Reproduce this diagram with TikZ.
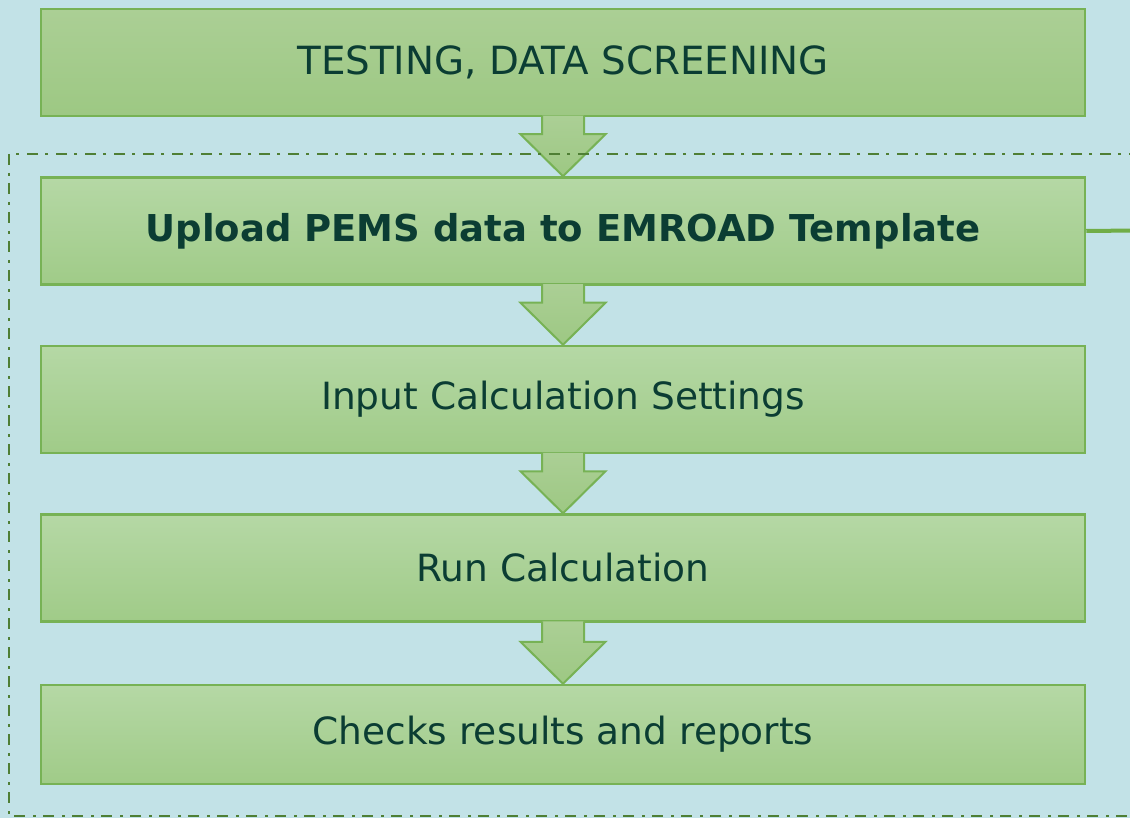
\documentclass[tikz,border=0pt]{standalone}
\usepackage{fontspec}
\setmainfont{DejaVu Sans}
\usetikzlibrary{positioning,calc}

\definecolor{bgblue}{HTML}{C2E2E7}
\definecolor{boxline}{HTML}{77B255}
\definecolor{boxtop}{HTML}{B5D8A5}
\definecolor{boxbot}{HTML}{A0CB88}
\definecolor{headtop}{HTML}{ABCF95}
\definecolor{headbot}{HTML}{9DC883}
\definecolor{textgreen}{HTML}{0B3D33}
\definecolor{framegreen}{HTML}{4F7F35}
\definecolor{linkgreen}{HTML}{70AD47}

% block arrow from the bottom of #1 to the top of #2
\newcommand{\flowarrow}[2]{%
  \path[downarrow] ($(#1.south)+(-21,-1.5)$) -- ($(#2.north)+(-21,-42)$)
    -- ($(#2.north)+(-42.5,-42)$) -- (#2.north)
    -- ($(#2.north)+(42.5,-42)$) -- ($(#2.north)+(21,-42)$)
    -- ($(#1.south)+(21,-1.5)$);}

\begin{document}
\begin{tikzpicture}[
    x=1pt, y=-1pt,
    stepbox/.style={draw=boxline, line width=2.5pt, top color=boxtop, bottom color=boxbot,
      minimum width=1044pt, minimum height=107pt, inner sep=0pt,
      text=textgreen, font=\fontsize{37.5}{44}\selectfont},
    downarrow/.style={draw=boxline, line width=2pt, top color=headtop, bottom color=headbot},
    frameline/.style={draw=framegreen, line width=2.5pt, dash pattern=on 11pt off 8pt on 3pt off 7pt},
    linkline/.style={draw=linkgreen, line width=4pt}
]
    \useasboundingbox[fill=bgblue] (0,0) rectangle (1130,818);

    % Steps
    \node[stepbox, top color=headtop, bottom color=headbot,
      font=\fontsize{38.8}{44}\selectfont] (testing) at (563,62.5) {TESTING, DATA SCREENING};
    \node[stepbox, below=59pt of testing, font=\fontsize{37}{44}\selectfont\bfseries] (upload) {Upload PEMS data to EMROAD Template};
    \node[stepbox, below=59pt of upload] (settings) {Input Calculation Settings};
    \node[stepbox, below=59pt of settings] (run) {Run Calculation};
    \node[stepbox, below=61pt of run, minimum height=99pt] (checks) {Checks results and reports};

    % Arrows
    \flowarrow{testing}{upload}
    \flowarrow{upload}{settings}
    \flowarrow{settings}{run}
    \flowarrow{run}{checks}

    % Link to the right
    \coordinate (linkend) at (1136,230.5);
    \draw[linkline] (upload.east) -- (linkend);

    % Dash-dot frame
    \draw[frameline] (1140,154) -- (9,154) -- (9,816) -- (1140,816);
\end{tikzpicture}
\end{document}
